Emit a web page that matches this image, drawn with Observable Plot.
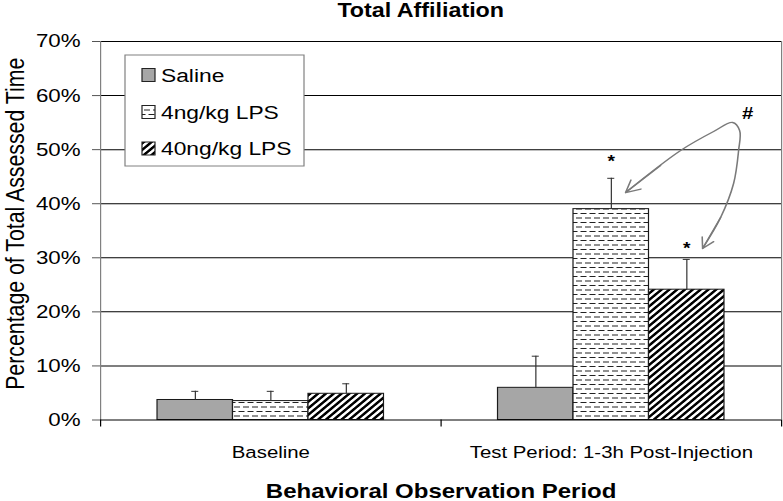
<!DOCTYPE html>
<html><head><meta charset="utf-8">
<script src="https://cdn.jsdelivr.net/npm/d3@7"></script>
<script src="https://cdn.jsdelivr.net/npm/@observablehq/plot@0.6"></script>
<style>body{margin:0;background:#fff;} #chart svg{display:block}</style>
</head><body><div id="chart"></div>
<script>
// ---- data ----
const groups = ["Baseline", "Test Period: 1-3h Post-Injection"];
const series = ["Saline", "4ng/kg LPS", "40ng/kg LPS"];
const salineMean = [3.7, 5.95];
const salineErr  = [1.6, 5.85];
const lps4Mean   = [3.5, 39.0];
const lps4Err    = [1.8, 5.7];
const lps40Mean  = [4.85, 24.1];
const lps40Err   = [1.85, 5.6];
const yTicks = [0, 10, 20, 30, 40, 50, 60, 70];
const chartTitle = "Total Affiliation";
const xTitle = "Behavioral Observation Period";
const yTitle = "Percentage of Total Assessed Time";
// significance annotations (group index, series index, value level)
const stars = [{g: 1, s: 1, label: "*", y: 47.8}, {g: 1, s: 2, label: "*", y: 31.6}];
const hashMark = [{x: 1.9, y: 56.7, label: "#"}];
// annotation arrow path (x in group units, y in %)
const arrowPath = [
  {x: 1.5419, y: 42.07}, {x: 1.7034, y: 49.84}, {x: 1.8003, y: 53.35}, {x: 1.8561, y: 55.02},
  {x: 1.8767, y: 53.54}, {x: 1.8737, y: 49.84}, {x: 1.8590, y: 43.74}, {x: 1.8209, y: 37.45},
  {x: 1.7680, y: 31.72}
];
const arrowHeads = [
  {x1: 1.6446, y1: 47.07, x2: 1.5419, y2: 42.07},
  {x1: 1.8209, y1: 37.45, x2: 1.7680, y2: 31.72}
];

// ---- layout / style ----
const W = 783, H = 501, SX = 1.2, IW = W / SX;
const BW = 0.2217, CAP = 0.0103;
const fills = ["#a6a6a6", "url(#pat4)", "url(#pat40)"];
const FONT = "'Liberation Sans', Arial, sans-serif";

const means = [salineMean, lps4Mean, lps40Mean];
const errs = [salineErr, lps4Err, lps40Err];
const bars = groups.flatMap((grp, g) => series.map((sr, s) => ({g, s, group: grp, series: sr, value: means[s][g], err: errs[s][g]})));
const center = d => d.g + 0.5 + (d.s - 1) * BW;

const svg = Plot.plot({
  width: IW, height: H,
  marginLeft: 100 / SX, marginRight: 2 / SX, marginTop: 41, marginBottom: 81.5,
  style: {fontFamily: FONT, background: "#fff"},
  x: {domain: [0, 2], label: null},
  y: {domain: [0, 70], label: null},
  marks: [
    Plot.ruleY(yTicks.filter(d => d > 0), {stroke: "#000", strokeWidth: 1}),
    Plot.ruleX([2], {stroke: "#808080"}),
    ...series.map((sr, s) => Plot.rectY(bars.filter(d => d.s === s), {
      x1: d => center(d) - BW / 2, x2: d => center(d) + BW / 2, y1: 0, y2: "value",
      fill: fills[s], stroke: "#1a1a1a", strokeWidth: 1
    })),
    Plot.ruleX(bars, {x: center, y1: "value", y2: d => d.value + d.err, stroke: "#333"}),
    Plot.ruleY(bars, {y: d => d.value + d.err, x1: d => center(d) - CAP, x2: d => center(d) + CAP, stroke: "#333"}),
    Plot.ruleX([0], {stroke: "#808080"}),
    Plot.ruleY([0], {stroke: "#000"}),
    Plot.axisY(yTicks, {tickFormat: d => d + "%", tickSize: 8 / SX, tickPadding: 10, fontSize: 18.6, stroke: "#555", label: null}),
    Plot.axisX([0, 1, 2], {tickSize: 7, tickFormat: () => "", stroke: "#000", label: null}),
    Plot.axisX([0.5, 1.5], {tickSize: 0, tickPadding: 26, tickFormat: d => groups[Math.floor(d)], fontSize: 17, label: null}),
    Plot.line(arrowPath, {x: "x", y: "y", curve: "catmull-rom", stroke: "#7a7a7a", strokeWidth: 1.3}),
    Plot.arrow(arrowHeads, {x1: "x1", y1: "y1", x2: "x2", y2: "y2", headLength: 17, headAngle: 55, stroke: "#7a7a7a", strokeWidth: 1.3}),
    Plot.text(stars, {x: d => center(d), y: "y", text: "label", fontSize: 16, fontWeight: "bold"}),
    Plot.text(hashMark, {x: "x", y: "y", text: "label", fontSize: 17, fontWeight: "bold"}),
    Plot.text([chartTitle], {text: d => d, frameAnchor: "top", lineAnchor: "middle", textAnchor: "middle", dy: -31, dx: -17, fontSize: 19.4, fontWeight: "bold"}),
    Plot.text([xTitle], {text: d => d, frameAnchor: "bottom", lineAnchor: "middle", textAnchor: "middle", dy: 71.5, fontSize: 20, fontWeight: "bold"}),
    Plot.text([yTitle], {text: d => d, frameAnchor: "left", lineAnchor: "middle", textAnchor: "middle", rotate: -90, dx: -70.6, dy: -7, fontSize: 21.3})
  ]
});

// stretch horizontally like the reference
svg.setAttribute("width", W);
svg.setAttribute("height", H);
svg.setAttribute("preserveAspectRatio", "none");
svg.style.width = W + "px";
svg.style.height = H + "px";
svg.style.maxWidth = "none";

// patterns
const root = d3.select(svg);
const defs = root.insert("defs", ":first-child");
const p4 = defs.append("pattern").attr("id", "pat4").attr("patternUnits", "userSpaceOnUse").attr("width", 7.5).attr("height", 9);
p4.append("rect").attr("width", 7.5).attr("height", 9).attr("fill", "#fff");
p4.append("line").attr("x1", 0).attr("x2", 5).attr("y1", 2).attr("y2", 2).attr("stroke", "#222").attr("stroke-width", 1);
p4.append("line").attr("x1", 3.75).attr("x2", 7.5).attr("y1", 6.5).attr("y2", 6.5).attr("stroke", "#222").attr("stroke-width", 1);
p4.append("line").attr("x1", 0).attr("x2", 1.25).attr("y1", 6.5).attr("y2", 6.5).attr("stroke", "#222").attr("stroke-width", 1);
const p40 = defs.append("pattern").attr("id", "pat40").attr("patternUnits", "userSpaceOnUse").attr("width", 4.6).attr("height", 4.6).attr("patternTransform", "rotate(45)");
p40.append("rect").attr("width", 4.6).attr("height", 4.6).attr("fill", "#fff");
p40.append("rect").attr("width", 2.3).attr("height", 4.6).attr("fill", "#000");

// legend (inside plot area)
const lg = root.append("g").attr("font-family", FONT).attr("text-anchor", "start");
lg.append("rect").attr("x", 125 / SX).attr("y", 55).attr("width", 179 / SX).attr("height", 111)
  .attr("fill", "#fff").attr("stroke", "#808080");
const rowsY = [75, 112, 148.5];
series.forEach((sr, s) => {
  lg.append("rect").attr("x", 142 / SX).attr("y", rowsY[s] - 6.5).attr("width", 13 / SX).attr("height", 13)
    .attr("fill", fills[s]).attr("stroke", "#222");
  lg.append("text").attr("x", 161 / SX).attr("y", rowsY[s]).attr("dy", "0.35em").attr("font-size", 19)
    .attr("text-anchor", "start").attr("fill", "#000").text(sr);
});

document.getElementById("chart").appendChild(svg);
</script>
</body></html>
